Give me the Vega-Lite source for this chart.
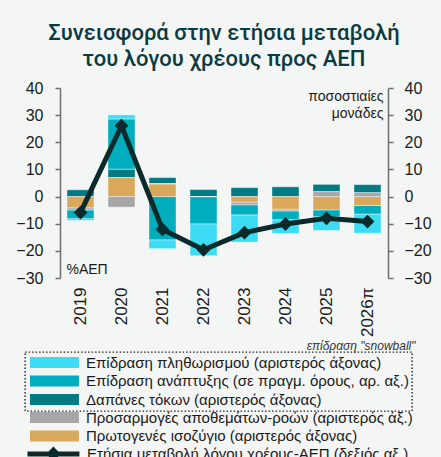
{
  "$schema": "https://vega.github.io/schema/vega-lite/v6.json",
  "width": 328,
  "height": 190,
  "autosize": {"type": "none"},
  "padding": {"left": 60, "top": 88, "right": 53, "bottom": 179},
  "background": "#f4f6f5",
  "title": {
    "text": ["Συνεισφορά στην ετήσια μεταβολή", "του λόγου χρέους προς ΑΕΠ"],
    "anchor": "middle",
    "frame": "group",
    "font": "Roboto",
    "fontSize": 22,
    "fontWeight": 500,
    "lineHeight": 26,
    "color": "#0c3a42",
    "offset": 9
  },
  "config": {
    "view": {"stroke": null},
    "font": "Liberation Sans",
    "axis": {"grid": false},
    "legend": {"strokeDash": [1.5, 2], "strokeWidth": 1.4}
  },
  "datasets": {
    "bars": [
      {"year": "2019", "component": "Πρωτογενές ισοζύγιο (αριστερός άξονας)", "group": "other", "order": 1, "value": -4.2},
      {"year": "2019", "component": "Προσαρμογές αποθεμάτων-ροών (αριστερός άξ.)", "group": "other", "order": 2, "value": -0.7},
      {"year": "2019", "component": "Δαπάνες τόκων (αριστερός άξονας)", "group": "snowball", "order": 3, "value": 2.5},
      {"year": "2019", "component": "Επίδραση ανάπτυξης (σε πραγμ. όρους, αρ. αξ.)", "group": "snowball", "order": 4, "value": -3.3},
      {"year": "2019", "component": "Επίδραση πληθωρισμού (αριστερός άξονας)", "group": "snowball", "order": 5, "value": -0.6},
      {"year": "2020", "component": "Πρωτογενές ισοζύγιο (αριστερός άξονας)", "group": "other", "order": 1, "value": 7.0},
      {"year": "2020", "component": "Προσαρμογές αποθεμάτων-ροών (αριστερός άξ.)", "group": "other", "order": 2, "value": -3.9},
      {"year": "2020", "component": "Δαπάνες τόκων (αριστερός άξονας)", "group": "snowball", "order": 3, "value": 3.1},
      {"year": "2020", "component": "Επίδραση ανάπτυξης (σε πραγμ. όρους, αρ. αξ.)", "group": "snowball", "order": 4, "value": 18.5},
      {"year": "2020", "component": "Επίδραση πληθωρισμού (αριστερός άξονας)", "group": "snowball", "order": 5, "value": 1.5},
      {"year": "2021", "component": "Πρωτογενές ισοζύγιο (αριστερός άξονας)", "group": "other", "order": 1, "value": 4.7},
      {"year": "2021", "component": "Προσαρμογές αποθεμάτων-ροών (αριστερός άξ.)", "group": "other", "order": 2, "value": 0.0},
      {"year": "2021", "component": "Δαπάνες τόκων (αριστερός άξονας)", "group": "snowball", "order": 3, "value": 2.3},
      {"year": "2021", "component": "Επίδραση ανάπτυξης (σε πραγμ. όρους, αρ. αξ.)", "group": "snowball", "order": 4, "value": -16.0},
      {"year": "2021", "component": "Επίδραση πληθωρισμού (αριστερός άξονας)", "group": "snowball", "order": 5, "value": -3.2},
      {"year": "2022", "component": "Πρωτογενές ισοζύγιο (αριστερός άξονας)", "group": "other", "order": 1, "value": 0.0},
      {"year": "2022", "component": "Προσαρμογές αποθεμάτων-ροών (αριστερός άξ.)", "group": "other", "order": 2, "value": 0.0},
      {"year": "2022", "component": "Δαπάνες τόκων (αριστερός άξονας)", "group": "snowball", "order": 3, "value": 2.6},
      {"year": "2022", "component": "Επίδραση ανάπτυξης (σε πραγμ. όρους, αρ. αξ.)", "group": "snowball", "order": 4, "value": -10.1},
      {"year": "2022", "component": "Επίδραση πληθωρισμού (αριστερός άξονας)", "group": "snowball", "order": 5, "value": -11.7},
      {"year": "2023", "component": "Πρωτογενές ισοζύγιο (αριστερός άξονας)", "group": "other", "order": 1, "value": -2.1},
      {"year": "2023", "component": "Προσαρμογές αποθεμάτων-ροών (αριστερός άξ.)", "group": "other", "order": 2, "value": -0.9},
      {"year": "2023", "component": "Δαπάνες τόκων (αριστερός άξονας)", "group": "snowball", "order": 3, "value": 3.3},
      {"year": "2023", "component": "Επίδραση ανάπτυξης (σε πραγμ. όρους, αρ. αξ.)", "group": "snowball", "order": 4, "value": -3.8},
      {"year": "2023", "component": "Επίδραση πληθωρισμού (αριστερός άξονας)", "group": "snowball", "order": 5, "value": -10.0},
      {"year": "2024", "component": "Πρωτογενές ισοζύγιο (αριστερός άξονας)", "group": "other", "order": 1, "value": -4.7},
      {"year": "2024", "component": "Προσαρμογές αποθεμάτων-ροών (αριστερός άξ.)", "group": "other", "order": 2, "value": -0.6},
      {"year": "2024", "component": "Δαπάνες τόκων (αριστερός άξονας)", "group": "snowball", "order": 3, "value": 3.6},
      {"year": "2024", "component": "Επίδραση ανάπτυξης (σε πραγμ. όρους, αρ. αξ.)", "group": "snowball", "order": 4, "value": -3.3},
      {"year": "2024", "component": "Επίδραση πληθωρισμού (αριστερός άξονας)", "group": "snowball", "order": 5, "value": -5.0},
      {"year": "2025", "component": "Πρωτογενές ισοζύγιο (αριστερός άξονας)", "group": "other", "order": 1, "value": -4.9},
      {"year": "2025", "component": "Προσαρμογές αποθεμάτων-ροών (αριστερός άξ.)", "group": "other", "order": 2, "value": 1.8},
      {"year": "2025", "component": "Δαπάνες τόκων (αριστερός άξονας)", "group": "snowball", "order": 3, "value": 2.7},
      {"year": "2025", "component": "Επίδραση ανάπτυξης (σε πραγμ. όρους, αρ. αξ.)", "group": "snowball", "order": 4, "value": -2.6},
      {"year": "2025", "component": "Επίδραση πληθωρισμού (αριστερός άξονας)", "group": "snowball", "order": 5, "value": -5.0},
      {"year": "2026π", "component": "Πρωτογενές ισοζύγιο (αριστερός άξονας)", "group": "other", "order": 1, "value": -3.3},
      {"year": "2026π", "component": "Προσαρμογές αποθεμάτων-ροών (αριστερός άξ.)", "group": "other", "order": 2, "value": 1.4},
      {"year": "2026π", "component": "Δαπάνες τόκων (αριστερός άξονας)", "group": "snowball", "order": 3, "value": 3.0},
      {"year": "2026π", "component": "Επίδραση ανάπτυξης (σε πραγμ. όρους, αρ. αξ.)", "group": "snowball", "order": 4, "value": -3.2},
      {"year": "2026π", "component": "Επίδραση πληθωρισμού (αριστερός άξονας)", "group": "snowball", "order": 5, "value": -7.0}
    ],
    "line": [
      {"year": "2019", "change": -5.9},
      {"year": "2020", "change": 26.1},
      {"year": "2021", "change": -12.1},
      {"year": "2022", "change": -19.6},
      {"year": "2023", "change": -13.3},
      {"year": "2024", "change": -10.1},
      {"year": "2025", "change": -8.0},
      {"year": "2026π", "change": -9.2}
    ]
  },
  "encoding": {
    "x": {
      "field": "year",
      "type": "nominal",
      "sort": null,
      "scale": {"paddingInner": 0.34, "paddingOuter": 0.17},
      "axis": {
        "orient": "bottom",
        "domain": false,
        "ticks": false,
        "labelAngle": -90,
        "labelFontSize": 17,
        "labelColor": "#1a1a1a",
        "labelPadding": 9,
        "title": "επίδραση \"snowball\"",
        "titleFontStyle": "italic",
        "titleFontWeight": "normal",
        "titleFontSize": 12,
        "titleColor": "#333333",
        "titleAnchor": "end",
        "titleAlign": "right",
        "titleBaseline": "alphabetic",
        "titleX": 355,
        "titleY": 71
      }
    }
  },
  "layer": [
    {
      "data": {"name": "bars"},
      "transform": [
        {"stack": "value", "groupby": ["year"], "sort": [{"field": "order", "order": "ascending"}], "as": ["v0", "v1"], "offset": "zero"}
      ],
      "encoding": {
        "y": {
          "field": "v0",
          "type": "quantitative",
          "scale": {"domain": [-30, 40], "nice": false, "zero": false},
          "axis": {
            "orient": "left",
            "values": [-30, -20, -10, 0, 10, 20, 30, 40],
            "labelOverlap": false,
            "domainColor": "#6e6e6e",
            "domainWidth": 1.5,
            "tickColor": "#6e6e6e",
            "tickWidth": 1.5,
            "tickSize": 5,
            "labelFontSize": 16,
            "labelColor": "#1a1a1a",
            "labelPadding": 12,
            "title": "%ΑΕΠ",
            "titleAngle": 0,
            "titleAlign": "left",
            "titleBaseline": "alphabetic",
            "titleFontWeight": "normal",
            "titleFontSize": 14,
            "titleColor": "#1a1a1a",
            "titleX": 6,
            "titleY": 185
          }
        },
        "y2": {"field": "v1"}
      },
      "layer": [
        {
          "transform": [{"filter": "datum.group === 'snowball'"}],
          "mark": {"type": "bar", "stroke": "#ffffff", "strokeWidth": 0.6, "strokeOpacity": 0.7},
          "encoding": {
            "color": {
              "field": "component",
              "type": "nominal",
              "scale": {
                "domain": ["Επίδραση πληθωρισμού (αριστερός άξονας)", "Επίδραση ανάπτυξης (σε πραγμ. όρους, αρ. αξ.)", "Δαπάνες τόκων (αριστερός άξονας)"],
                "range": ["#3ddcf5", "#00adbf", "#007a83"]
              },
              "legend": {
                "orient": "none",
                "legendX": -35,
                "legendY": 264,
                "direction": "vertical",
                "title": null,
                "padding": 3,
                "strokeColor": "#222222",
                "symbolType": "M-1,-1H7.9V1H-1Z",
                "symbolSize": 121,
                "symbolStrokeWidth": 0,
                "symbolOpacity": 1,
                "labelFontSize": 15,
                "labelColor": "#1a1a1a",
                "labelLimit": 400,
                "labelOffset": 43,
                "rowPadding": 2.5
              }
            }
          }
        },
        {
          "transform": [{"filter": "datum.group === 'other'"}],
          "mark": {"type": "bar", "stroke": "#ffffff", "strokeWidth": 0.6, "strokeOpacity": 0.7},
          "encoding": {
            "color": {
              "field": "component",
              "type": "nominal",
              "scale": {
                "domain": ["Προσαρμογές αποθεμάτων-ροών (αριστερός άξ.)", "Πρωτογενές ισοζύγιο (αριστερός άξονας)"],
                "range": ["#a6a6a6", "#d9a85b"]
              },
              "legend": {
                "orient": "none",
                "legendX": -36,
                "legendY": 318,
                "direction": "vertical",
                "title": null,
                "padding": 4,
                "symbolType": "M-1,-1H7.9V1H-1Z",
                "symbolSize": 121,
                "symbolStrokeWidth": 0,
                "symbolOpacity": 1,
                "labelFontSize": 15,
                "labelColor": "#1a1a1a",
                "labelLimit": 400,
                "labelOffset": 43,
                "rowPadding": 2.5
              }
            }
          }
        },
        {
          "mark": {"type": "rule", "color": "#666666", "strokeWidth": 2},
          "encoding": {
            "y": {
              "datum": 0,
              "type": "quantitative",
              "axis": {
                "orient": "left",
                "values": [-30, -20, -10, 0, 10, 20, 30, 40],
                "labelOverlap": false,
                "domainColor": "#6e6e6e",
                "domainWidth": 1.5,
                "tickColor": "#6e6e6e",
                "tickWidth": 1.5,
                "tickSize": 5,
                "labelFontSize": 16,
                "labelColor": "#1a1a1a",
                "labelPadding": 12,
                "title": "%ΑΕΠ",
                "titleAngle": 0,
                "titleAlign": "left",
                "titleBaseline": "alphabetic",
                "titleFontWeight": "normal",
                "titleFontSize": 14,
                "titleColor": "#1a1a1a",
                "titleX": 6,
                "titleY": 185
              }
            },
            "y2": null
          }
        }
      ],
      "resolve": {"scale": {"color": "independent"}, "legend": {"color": "independent"}}
    },
    {
      "data": {"name": "line"},
      "mark": {
        "type": "line",
        "strokeWidth": 5,
        "point": {"shape": "diamond", "size": 190, "filled": true, "opacity": 1}
      },
      "encoding": {
        "y": {
          "field": "change",
          "type": "quantitative",
          "scale": {"domain": [-30, 40], "nice": false, "zero": false},
          "axis": {
            "orient": "right",
            "values": [-30, -20, -10, 0, 10, 20, 30, 40],
            "labelOverlap": false,
            "domainColor": "#6e6e6e",
            "domainWidth": 1.5,
            "tickColor": "#6e6e6e",
            "tickWidth": 1.5,
            "tickSize": 5,
            "labelFontSize": 16,
            "labelColor": "#1a1a1a",
            "labelPadding": 11,
            "title": ["ποσοστιαίες", "μονάδες"],
            "titleAngle": 0,
            "titleAlign": "right",
            "titleBaseline": "alphabetic",
            "titleFontWeight": "normal",
            "titleFontSize": 14,
            "titleColor": "#1a1a1a",
            "titleLineHeight": 17,
            "titleX": -5,
            "titleY": 12
          }
        },
        "color": {
          "datum": "Ετήσια μεταβολή λόγου χρέους-ΑΕΠ (δεξιός αξ.)",
          "scale": {"range": ["#0b2a2b"]},
          "legend": {
            "orient": "none",
            "legendX": -36,
            "legendY": 354,
            "title": null,
            "padding": 4,
            "symbolType": "M-1.55,0H7.9M3.18,-0.7L3.88,0L3.18,0.7L2.48,0Z",
            "symbolSize": 121,
            "symbolStrokeWidth": 5,
            "symbolStrokeColor": "#0b2a2b",
            "symbolFillColor": "#0b2a2b",
            "labelFontSize": 15,
            "labelColor": "#1a1a1a",
            "labelLimit": 400,
            "labelOffset": 43
          }
        }
      }
    }
  ],
  "resolve": {"scale": {"y": "independent", "color": "independent"}, "legend": {"color": "independent"}}
}
